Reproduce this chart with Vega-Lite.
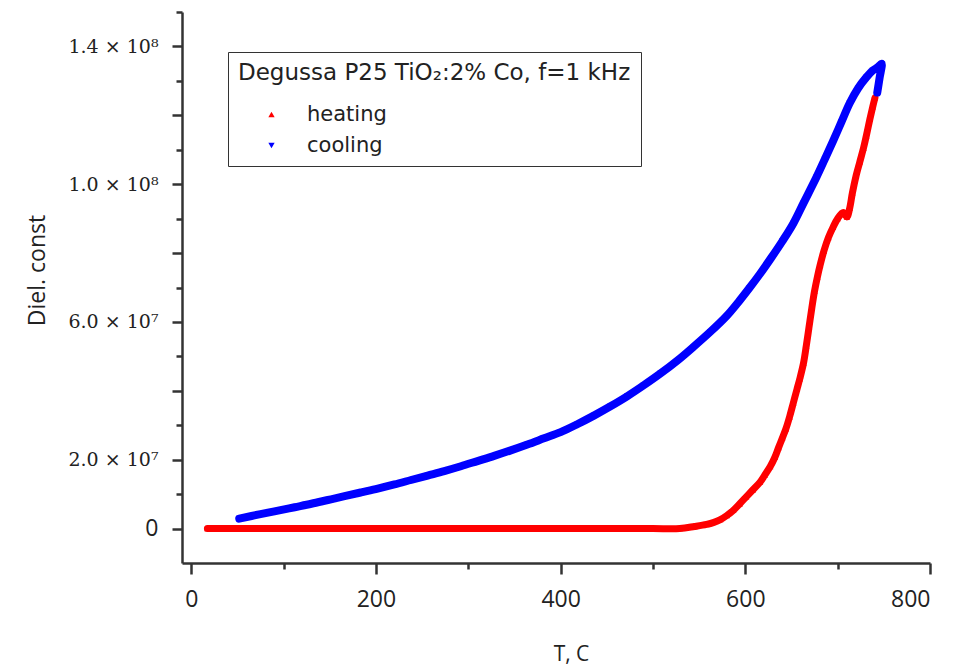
{
  "$schema": "https://vega.github.io/schema/vega-lite/v6.json",
  "width": 748,
  "height": 551,
  "autosize": "none",
  "padding": {"left": 182, "top": 12, "right": 33, "bottom": 108},
  "background": "white",
  "config": {
    "view": {"stroke": null},
    "axis": {"grid": false, "domainColor": "#333333", "domainWidth": 2.5, "tickColor": "#333333", "tickWidth": 2.5, "labelColor": "#222222", "titleColor": "#222222"}
  },
  "data": {"values": [
    {"s":"heating","n":1,"T":17.5,"y":0},
    {"s":"heating","n":2,"T":60,"y":0},
    {"s":"heating","n":3,"T":100,"y":0},
    {"s":"heating","n":4,"T":150,"y":0},
    {"s":"heating","n":5,"T":200,"y":0},
    {"s":"heating","n":6,"T":250,"y":0},
    {"s":"heating","n":7,"T":300,"y":0},
    {"s":"heating","n":8,"T":350,"y":0},
    {"s":"heating","n":9,"T":400,"y":0},
    {"s":"heating","n":10,"T":450,"y":0},
    {"s":"heating","n":11,"T":500,"y":0},
    {"s":"heating","n":12,"T":529,"y":0},
    {"s":"heating","n":13,"T":545,"y":600000},
    {"s":"heating","n":14,"T":558,"y":1200000},
    {"s":"heating","n":15,"T":566,"y":1800000},
    {"s":"heating","n":16,"T":573,"y":2600000},
    {"s":"heating","n":17,"T":580,"y":3800000},
    {"s":"heating","n":18,"T":587,"y":5300000},
    {"s":"heating","n":19,"T":594,"y":7200000},
    {"s":"heating","n":20,"T":601,"y":9200000},
    {"s":"heating","n":21,"T":608,"y":11200000},
    {"s":"heating","n":22,"T":616,"y":13500000},
    {"s":"heating","n":23,"T":621,"y":15500000},
    {"s":"heating","n":24,"T":627,"y":18000000},
    {"s":"heating","n":25,"T":632,"y":20700000},
    {"s":"heating","n":26,"T":636,"y":23500000},
    {"s":"heating","n":27,"T":640,"y":26200000},
    {"s":"heating","n":28,"T":644,"y":29000000},
    {"s":"heating","n":29,"T":648,"y":32500000},
    {"s":"heating","n":30,"T":652,"y":36500000},
    {"s":"heating","n":31,"T":656,"y":40500000},
    {"s":"heating","n":32,"T":659,"y":43500000},
    {"s":"heating","n":33,"T":663,"y":48000000},
    {"s":"heating","n":34,"T":666,"y":53000000},
    {"s":"heating","n":35,"T":669,"y":58500000},
    {"s":"heating","n":36,"T":672,"y":64000000},
    {"s":"heating","n":37,"T":675,"y":69000000},
    {"s":"heating","n":38,"T":678,"y":73000000},
    {"s":"heating","n":39,"T":681,"y":76500000},
    {"s":"heating","n":40,"T":685,"y":80500000},
    {"s":"heating","n":41,"T":690,"y":84500000},
    {"s":"heating","n":42,"T":695,"y":87500000},
    {"s":"heating","n":43,"T":700,"y":90000000},
    {"s":"heating","n":44,"T":706,"y":91800000},
    {"s":"heating","n":45,"T":710,"y":90500000},
    {"s":"heating","n":46,"T":713,"y":93000000},
    {"s":"heating","n":47,"T":716,"y":97500000},
    {"s":"heating","n":48,"T":720,"y":102500000},
    {"s":"heating","n":49,"T":724,"y":106500000},
    {"s":"heating","n":50,"T":728,"y":110500000},
    {"s":"heating","n":51,"T":731,"y":114000000},
    {"s":"heating","n":52,"T":735,"y":119000000},
    {"s":"heating","n":53,"T":738,"y":122500000},
    {"s":"heating","n":54,"T":740.4,"y":125100000},
    {"s":"cooling","n":1,"T":742.9,"y":126600000},
    {"s":"cooling","n":2,"T":745.5,"y":131000000},
    {"s":"cooling","n":3,"T":747.6,"y":135000000},
    {"s":"cooling","n":4,"T":743.5,"y":134000000},
    {"s":"cooling","n":5,"T":738,"y":133000000},
    {"s":"cooling","n":6,"T":731,"y":131000000},
    {"s":"cooling","n":7,"T":722,"y":127800000},
    {"s":"cooling","n":8,"T":713,"y":123500000},
    {"s":"cooling","n":9,"T":704,"y":118000000},
    {"s":"cooling","n":10,"T":695,"y":112500000},
    {"s":"cooling","n":11,"T":686,"y":107200000},
    {"s":"cooling","n":12,"T":677,"y":102000000},
    {"s":"cooling","n":13,"T":663,"y":94500000},
    {"s":"cooling","n":14,"T":652,"y":88600000},
    {"s":"cooling","n":15,"T":640,"y":83400000},
    {"s":"cooling","n":16,"T":628,"y":78600000},
    {"s":"cooling","n":17,"T":616,"y":74000000},
    {"s":"cooling","n":18,"T":604,"y":69700000},
    {"s":"cooling","n":19,"T":592,"y":65600000},
    {"s":"cooling","n":20,"T":580,"y":61800000},
    {"s":"cooling","n":21,"T":562,"y":57100000},
    {"s":"cooling","n":22,"T":544,"y":52800000},
    {"s":"cooling","n":23,"T":526,"y":48700000},
    {"s":"cooling","n":24,"T":508,"y":45000000},
    {"s":"cooling","n":25,"T":490,"y":41600000},
    {"s":"cooling","n":26,"T":472,"y":38400000},
    {"s":"cooling","n":27,"T":454,"y":35500000},
    {"s":"cooling","n":28,"T":436,"y":32800000},
    {"s":"cooling","n":29,"T":418,"y":30300000},
    {"s":"cooling","n":30,"T":400,"y":28000000},
    {"s":"cooling","n":31,"T":382,"y":26200000},
    {"s":"cooling","n":32,"T":364,"y":24400000},
    {"s":"cooling","n":33,"T":346,"y":22700000},
    {"s":"cooling","n":34,"T":328,"y":21100000},
    {"s":"cooling","n":35,"T":310,"y":19600000},
    {"s":"cooling","n":36,"T":292,"y":18100000},
    {"s":"cooling","n":37,"T":274,"y":16700000},
    {"s":"cooling","n":38,"T":256,"y":15400000},
    {"s":"cooling","n":39,"T":238,"y":14100000},
    {"s":"cooling","n":40,"T":220,"y":12800000},
    {"s":"cooling","n":41,"T":202,"y":11600000},
    {"s":"cooling","n":42,"T":184,"y":10500000},
    {"s":"cooling","n":43,"T":166,"y":9400000},
    {"s":"cooling","n":44,"T":148,"y":8300000},
    {"s":"cooling","n":45,"T":130,"y":7200000},
    {"s":"cooling","n":46,"T":112,"y":6200000},
    {"s":"cooling","n":47,"T":94,"y":5200000},
    {"s":"cooling","n":48,"T":75,"y":4200000},
    {"s":"cooling","n":49,"T":52,"y":2900000}
  ]},
  "resolve": {"axis": {"x": "independent", "y": "independent"}},
  "layer": [
    {
      "mark": {"type": "point", "filled": true, "size": 40, "opacity": 1},
      "encoding": {
        "x": {"field": "T", "type": "quantitative", "scale": {"domain": [-10, 800], "nice": false, "zero": false},
          "axis": {"orient": "bottom", "values": [0, 200, 400, 600, 800], "tickSize": 11, "labelFont": "Open Sans", "labelFontSize": 23, "labelPadding": 14,
            "title": "T, C", "titleFont": "Open Sans", "titleFontSize": 21, "titleFontWeight": "normal", "titleX": 389, "titleY": 91, "titleAlign": "center", "titleBaseline": "middle"}},
        "y": {"field": "y", "type": "quantitative", "scale": {"domain": [-10000000, 150000000], "nice": false, "zero": false},
          "axis": {"orient": "left", "values": [0, 20000000, 40000000, 60000000, 80000000, 100000000, 120000000, 140000000], "tickSize": 10, "labelPadding": 14,
            "labelExpr": "datum.value == 0 ? '0' : datum.value == 20000000 ? '2.0 × 10⁷' : datum.value == 60000000 ? '6.0 × 10⁷' : datum.value == 100000000 ? '1.0 × 10⁸' : datum.value == 140000000 ? '1.4 × 10⁸' : ''",
            "labelFont": {"condition": {"test": "datum.value == 0", "value": "Open Sans"}, "value": "DejaVu Serif"},
            "labelFontSize": {"condition": {"test": "datum.value == 0", "value": 23}, "value": 19},
            "title": "Diel. const", "titleFont": "Open Sans", "titleFontSize": 23, "titleFontWeight": "normal", "titleAngle": -90, "titleX": -145, "titleY": 258, "titleAlign": "center", "titleBaseline": "middle"}},
        "color": {"field": "s", "type": "nominal", "scale": {"domain": ["heating", "cooling"], "range": ["#ff0000", "#0000ff"]},
          "legend": {"orient": "none", "legendX": 46, "legendY": 40, "title": "Degussa P25 TiO₂:2% Co, f=1 kHz", "titleFont": "DejaVu Sans", "titleFontSize": 23, "titleFontWeight": "normal", "titleColor": "#222222", "titlePadding": 19, "titleLimit": 600,
            "labelFont": "DejaVu Sans", "labelFontSize": 21, "labelColor": "#222222", "symbolOffset": 23, "labelOffset": 25, "rowPadding": 9, "symbolSize": 40, "symbolStrokeWidth": 0, "padding": 10, "strokeColor": "#333333", "fillColor": "white"}},
        "shape": {"field": "s", "type": "nominal", "scale": {"domain": ["heating", "cooling"], "range": ["triangle-up", "triangle-down"]}}
      }
    },
    {
      "transform": [{"filter": "datum.s == 'heating'"}],
      "mark": {"type": "line", "color": "#ff0000", "strokeWidth": 7, "strokeCap": "round", "strokeJoin": "round", "interpolate": "catmull-rom"},
      "encoding": {
        "x": {"field": "T", "type": "quantitative", "axis": {"orient": "bottom", "values": [100, 300, 500, 700], "tickSize": 6, "labels": false, "domain": false, "title": null}},
        "y": {"field": "y", "type": "quantitative", "axis": {"orient": "left", "values": [10000000, 30000000, 50000000, 70000000, 90000000, 110000000, 130000000, 150000000], "tickSize": 6, "labels": false, "domain": false, "title": null}},
        "order": {"field": "n", "type": "quantitative"}
      }
    },
    {
      "transform": [{"filter": "datum.s == 'cooling'"}],
      "mark": {"type": "line", "color": "#0000ff", "strokeWidth": 8, "strokeCap": "round", "strokeJoin": "round", "interpolate": "catmull-rom"},
      "encoding": {
        "x": {"field": "T", "type": "quantitative", "axis": null},
        "y": {"field": "y", "type": "quantitative", "axis": null},
        "order": {"field": "n", "type": "quantitative"}
      }
    }
  ]
}
